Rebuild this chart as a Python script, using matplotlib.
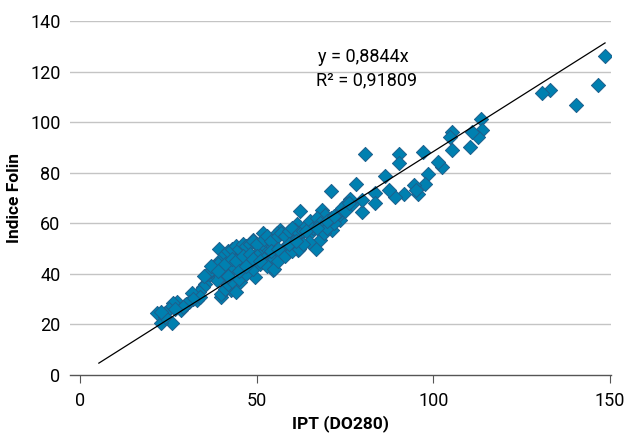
import numpy as np
import matplotlib.pyplot as plt

# Datos: IPT (DO280) frente a Indice Folin
ipt = [148.6, 146.6, 140.4, 133.0, 130.8, 113.6, 113.8, 112.7, 111.0, 110.4,
       105.3, 104.6, 105.3, 102.5, 101.2, 98.6, 97.2, 97.7, 95.7, 94.6,
       95.2, 91.8, 90.3, 90.3, 89.0, 87.3, 86.4, 83.5, 83.5, 80.7,
       79.9, 79.9, 78.0, 77.1, 76.5, 75.4, 74.8, 73.7, 73.7, 72.6,
       70.9, 71.4, 70.9, 68.6, 69.2, 68.0, 66.9, 66.4, 65.2, 64.7,
       62.2, 61.8, 61.3, 60.7, 59.0, 57.9, 56.7, 55.6, 55.0, 54.5,
       55.6, 53.4, 52.2, 51.7, 51.1, 50.0, 49.4, 48.8, 48.3, 47.1,
       46.6, 45.4, 45.4, 44.9, 43.7, 43.2, 42.6, 42.0, 40.9, 40.4,
       39.8, 39.2, 38.7, 37.5, 36.4, 35.8, 35.3, 34.7, 33.6, 33.0,
       31.6, 30.7, 29.6, 28.5, 27.4, 26.2, 26.0, 25.1, 24.0, 23.4,
       22.8, 21.7,
       40, 41, 42, 43, 44, 45, 46, 47, 48, 49,
       50, 52, 53, 54, 56, 57, 58, 59, 60, 38,
       39, 37, 36, 41, 43, 44, 46, 48, 50, 52,
       53, 55, 57, 58, 60, 61, 62, 63, 64, 65,
       66, 67, 68, 69, 70, 72, 73, 74, 75, 76,
       71, 40, 41, 42, 43, 44, 45, 47, 49, 51,
       53, 55, 56, 58, 60, 62, 63, 34, 32, 30,
       29, 27, 24, 23, 35, 37, 39, 42, 45, 47,
       49, 51, 54, 56, 59, 61, 64, 67, 70, 72]
folin = [126.2, 114.6, 106.7, 112.9, 111.7, 101.4, 96.8, 94.2, 96.1, 90.2,
         96.1, 94.2, 88.9, 82.3, 84.3, 79.7, 88.2, 75.7, 71.8, 75.1,
         73.1, 71.8, 87.3, 84.0, 70.5, 73.1, 78.6, 72.0, 68.1, 87.3,
         64.5, 69.1, 75.7, 67.8, 69.8, 67.8, 65.9, 63.2, 61.2, 62.6,
         72.8, 57.3, 59.9, 65.2, 63.2, 53.3, 50.0, 59.9, 56.0, 52.7,
         64.9, 49.4, 59.9, 57.3, 54.7, 50.7, 57.3, 56.0, 48.1, 41.5,
         45.4, 50.7, 48.1, 56.0, 52.0, 48.1, 38.9, 53.3, 44.8, 50.7,
         48.1, 44.1, 36.9, 46.8, 50.0, 42.1, 33.6, 48.1, 40.2, 45.4,
         30.9, 50.0, 37.5, 42.8, 40.2, 38.9, 36.2, 34.9, 32.9, 29.6,
         32.3, 29.0, 27.7, 25.7, 29.0, 28.3, 20.4, 26.3, 24.4, 22.4,
         20.4, 24.4,
         46, 48, 49, 50, 51, 50, 52, 51, 52, 53,
         52, 54, 55, 53, 55, 56, 55, 57, 58, 43,
         44, 41, 40, 44, 46, 45, 47, 48, 47, 46,
         44, 46, 48, 50, 52, 54, 56, 57, 59, 61,
         58, 62, 60, 56, 58, 60, 64, 66, 65, 68,
         62, 32, 34, 36, 37, 33, 38, 40, 42, 44,
         43, 42, 45, 47, 49, 50, 52, 31, 30, 28,
         27, 26, 23, 25, 39, 43, 41, 39, 41, 43,
         46, 45, 49, 50, 52, 53, 57, 58, 61, 63]

pendiente = 0.8844
r2 = "0,91809"
x_recta = [5.3, 148.6]


def main():
    plt.rcParams['font.family'] = ['Roboto', 'DejaVu Sans']

    fig = plt.figure(figsize=(6.27, 4.34), dpi=100)
    ax = fig.add_axes([0.112, 0.136, 0.862, 0.815])

    for y in range(20, 141, 20):
        ax.axhline(y, color='#c4c4c4', lw=1.0, zorder=0)

    ax.scatter(ipt, folin, marker='D', s=52, color='#0080b0',
               edgecolor='#1d5f8c', linewidth=0.7, zorder=2)

    xr = np.array(x_recta)
    ax.plot(xr, pendiente * xr, color='black', lw=0.9, zorder=3)

    ax.text(67.3, 125.8, "y = 0,8844x", fontsize=13, va='center')
    ax.text(66.7, 116.6, "R² = " + r2, fontsize=13, va='center')

    ax.set_xlim(-2.8, 150.2)
    ax.set_ylim(0, 140)
    ax.set_xticks([0, 50, 100, 150])
    ax.set_yticks(range(0, 141, 20))
    ax.tick_params(axis='x', direction='out', length=6, color='#555555',
                   labelsize=13, pad=6)
    ax.tick_params(axis='y', length=0, labelsize=13, pad=7)

    for lado in ['top', 'right', 'left']:
        ax.spines[lado].set_visible(False)
    ax.spines['bottom'].set_color('#555555')
    ax.spines['bottom'].set_linewidth(1.0)

    ax.set_xlabel('IPT (DO280)', fontsize=12.5, fontweight='bold', labelpad=4)
    ax.set_ylabel('Indice Folin', fontsize=12.5, fontweight='bold', labelpad=6)

    fig.savefig('out.png', dpi=100)


if __name__ == "__main__":
    main()
